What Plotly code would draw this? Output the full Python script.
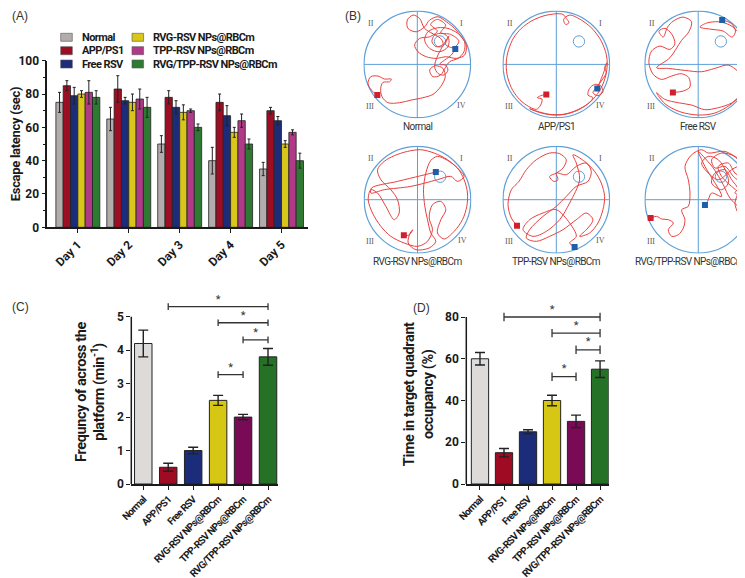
import plotly.graph_objects as go

W, H = 745, 578

# ---------------- data ----------------
days = ["Day 1", "Day 2", "Day 3", "Day 4", "Day 5"]
groups = ["Normal", "APP/PS1", "Free RSV", "RVG-RSV NPs@RBCm",
          "TPP-RSV NPs@RBCm", "RVG/TPP-RSV NPs@RBCm"]

# (A) escape latency (sec)
lat_normal = [75, 65, 50, 40, 35]
lat_app = [85, 83, 78, 75, 70]
lat_free = [79, 76, 72, 67, 64]
lat_rvg = [80, 75, 69, 57, 50]
lat_tpp = [81, 77, 70, 64, 57]
lat_dual = [78, 72, 60, 50, 40]
err_normal = [6, 7, 5, 8, 4]
err_app = [3, 8, 4, 5, 2]
err_free = [5, 2, 4, 6, 2.5]
err_rvg = [2, 5, 4.5, 3, 2]
err_tpp = [7, 6, 1, 4, 1.5]
err_dual = [4, 6, 2, 3, 4.5]

# (C) platform crossing frequency, (D) target quadrant occupancy
freq = [4.2, 0.5, 1.0, 2.5, 2.0, 3.8]
freq_err = [0.4, 0.12, 0.1, 0.15, 0.08, 0.25]
occ = [60, 15, 25, 40, 30, 55]
occ_err = [3, 2, 1, 2.5, 3, 4]

# significance brackets (group index pairs and heights)
sig_left = [1, 3, 4, 3]
sig_right = [5, 5, 5, 4]
sig_freq_y = [5.3, 4.82, 4.31, 3.27]
sig_occ_y = [80, 72.3, 64.3, 51.4]

# (B) swim paths, arena units (pool radius 160, centre at 0,0)
path_normal = [(-120,-92),(-138,-77),(-148,-57),(-140,-37),(-118,-35),(-98,-44),(-78,-44),(-83,-52),
               (-103,-54),(-110,-72),(-106,-97),(-88,-115),(-53,-115),(-18,-107),(17,-100),(47,-90),
               (70,-67),(84,-37),(77,-12),(54,-4),(37,-17),(47,-37),(70,-32),(84,-10),(97,8),(122,18),
               (140,38),(142,68),(122,93),(92,108),(62,110),(32,98),(22,73),(37,48),(67,38),(92,53),
               (94,78),(77,93),(52,88),(44,68),(57,53),(77,60),(72,76),(22,108),(7,138),(-13,148),
               (-30,133),(-28,108),(-3,98),(22,113),(37,133),(62,143),(87,128),(112,108),(132,83),
               (147,58),(142,28),(117,18),(87,23),(57,18),(27,23),(2,38),(-8,58),(7,78),(37,83),
               (60,100),(40,120),(60,135),(85,118),(70,95),(100,90),(125,70),(110,50),(85,60),(95,85),
               (62,28),(52,-7),(62,-27),(80,-32),(92,-17),(84,-2),(67,0),(102,28),(114,46)]
path_app = [(-30,-90),(-47,-94),(-57,-100),(-43,-104),(-47,-122),(-60,-135),(-90,-122),(-115,-100),
            (-135,-70),(-148,-30),(-150,10),(-143,45),(-128,80),(-105,108),(-75,130),(-40,145),(0,152),
            (20,150),(30,138),(38,125),(28,120),(22,135),(40,148),(80,130),(110,105),(135,70),(150,30),
            (153,0),(148,-35),(135,-70),(110,-105),(75,-132),(35,-148),(-5,-152),(-45,-146),(-80,-133),
            (-60,-140),(-20,-150),(20,-150),(60,-138),(95,-118),(110,-100),(95,-92),(100,-72),(115,-60),
            (133,-64),(140,-82),(125,-94),(110,-85),(120,-70),(135,-50),(150,-25),(145,-10),(152,5),
            (140,-30),(130,-55),(123,-72)]
path_free = [(-76,-84),(-45,-80),(-25,-68),(-28,-40),(-50,-28),(-80,-35),(-110,-45),(-135,-30),(-148,5),
             (-140,40),(-115,55),(-85,45),(-70,62),(-80,92),(-100,108),(-118,100),(-105,82),(-92,112),
             (-75,130),(-45,142),(-20,128),(-28,98),(-50,72),(-85,20),(-125,-10),(-90,-12),(-40,-18),
             (10,-22),(50,-12),(90,-2),(120,-22),(138,-55),(128,-92),(100,-116),(60,-130),(20,-136),
             (-20,-122),(-60,-115),(-100,-105),(-125,-85),(-100,-118),(-55,-142),(0,-152),(50,-146),
             (95,-122),(125,-92),(145,-50),(152,-10),(150,30),(140,65),(122,95),(95,118),(60,128),
             (25,124),(5,112),(35,106),(75,100),(102,82),(112,100),(98,124),(72,133)]
path_rvg = [(-41,-107),(-25,-106),(-14,-90),(-22,-100),(-28,-130),(-5,-150),(35,-145),(55,-125),(40,-100),
            (30,-60),(22,-20),(18,30),(25,80),(40,118),(60,130),(90,118),(120,95),(140,60),(150,20),
            (148,-20),(135,-60),(110,-95),(80,-118),(60,-100),(70,-60),(85,-30),(70,-5),(45,-15),(35,-55),
            (45,-90),(30,-125),(0,-140),(-40,-130),(-80,-110),(-110,-80),(-135,-40),(-148,0),(-140,30),
            (-120,20),(-95,-20),(-70,-60),(-55,-40),(-60,0),(-80,30),(-110,60),(-120,90),(-100,115),
            (-70,132),(-30,145),(10,150),(50,140),(90,120),(125,90),(140,70),(120,55),(100,70),(60,60),
            (-20,40),(-100,30),(-140,20),(-138,35),(-60,55),(10,72),(55,83)]
path_tpp = [(-118,-78),(-135,-55),(-145,-15),(-135,30),(-112,55),(-90,90),(-60,120),(-20,140),(10,138),
            (30,120),(20,95),(0,80),(-20,70),(-8,55),(5,60),(0,80),(30,75),(60,100),(90,110),(105,85),
            (95,55),(60,40),(30,10),(0,-20),(-40,-50),(-80,-90),(-90,-115),(-60,-125),(-20,-110),
            (20,-90),(60,-60),(90,-40),(110,-60),(95,-85),(70,-110),(100,-100),(125,-70),(140,-30),
            (145,10),(135,50),(115,85),(85,115),(50,135),(60,110),(70,60),(40,-10),(10,-60),(-30,-95),
            (-70,-110),(-100,-90),(-80,-60),(-40,-40),(0,-30),(40,-70),(60,-110),(40,-130),(55,-142)]
path_dual = [(-143,-55),(-125,-50),(-110,-58),(-90,-60),(-75,-70),(-90,-90),(-80,-110),(-60,-105),
             (-45,-85),(-40,-60),(-50,-30),(-30,-20),(-25,20),(-30,60),(-40,100),(-20,135),(10,150),
             (30,140),(80,145),(120,120),(145,80),(150,40),(130,20),(100,40),(70,70),(60,100),(90,110),
             (110,80),(140,60),(150,20),(145,-20),(135,-50),(120,-40),(110,-10),(120,30),(100,60),
             (80,90),(50,80),(40,50),(70,30),(90,50),(85,80),(60,120),(30,130),(10,110),(30,80),(60,60),
             (100,90),(130,110),(110,130),(70,140),(40,120),(50,95),(80,100),(105,70),(130,45),(110,20),
             (140,10),(152,-15),(130,-25),(95,5),(75,45),(45,95),(15,130),(0,145),(20,100),
             (70,10),(40,20),(30,0),(25,-10),(20,-16)]
platform = (68, 69)
platform_r = 17
pool_r = 160

# ---------------- style ----------------
FONT = "Roboto, sans-serif"
colors_a = ["#b3acac", "#9b0e24", "#1c2c78", "#d9c61b", "#b03a88", "#2f7a33"]
colors_cd = ["#dddbd9", "#9e0b22", "#1a2c7a", "#d6c714", "#790a55", "#257226"]
EDGE = "#222222"
INK = "#1a1a1a"

def bold(size):
    return dict(family=FONT, size=size, color=INK, weight="bold")

def tight(text, ls):
    return '<span style="letter-spacing:%spx">%s</span>' % (ls, text)

def fx(px):
    return px / W

def fy(py):
    return 1 - py / H

fig = go.Figure()

# ---------- (A) grouped bars ----------
lat_series = [lat_normal, lat_app, lat_free, lat_rvg, lat_tpp, lat_dual]
err_series = [err_normal, err_app, err_free, err_rvg, err_tpp, err_dual]
for name, vals, errs, col in zip(groups, lat_series, err_series, colors_a):
    fig.add_trace(go.Bar(
        x=list(range(len(days))), y=vals, name=name, showlegend=False,
        marker=dict(color=col, line=dict(color=EDGE, width=0.8)),
        error_y=dict(type="data", array=errs, color=EDGE, thickness=1, width=1.5),
        xaxis="x", yaxis="y"))

# ---------- (C) and (D) ----------
def add_panel(vals, errs, sig_y, cap, star_off, width, ax):
    fig.add_trace(go.Bar(
        x=list(range(len(groups))), y=vals, width=width, showlegend=False,
        marker=dict(color=colors_cd, line=dict(color=EDGE, width=1)),
        error_y=dict(type="data", array=errs, color=EDGE, thickness=1.4, width=5),
        xaxis="x" + ax, yaxis="y" + ax))
    bx, by, sx, sy = [], [], [], []
    for l, r, y in zip(sig_left, sig_right, sig_y):
        bx += [l, l, None, l, r, None, r, r, None]
        by += [y - cap, y + cap, None, y, y, None, y - cap, y + cap, None]
        sx.append((l + r) / 2)
        sy.append(y + star_off)
    fig.add_trace(go.Scatter(x=bx, y=by, mode="lines", line=dict(color="#333", width=1.3),
                             showlegend=False, hoverinfo="skip", xaxis="x" + ax, yaxis="y" + ax))
    fig.add_trace(go.Scatter(x=sx, y=sy, mode="text", text=["*"] * len(sx),
                             textfont=dict(family=FONT, size=11, color="#333"), cliponaxis=False,
                             showlegend=False, hoverinfo="skip", xaxis="x" + ax, yaxis="y" + ax))

add_panel(freq, freq_err, sig_freq_y, 0.1, 0.2, 0.7, "2")
add_panel(occ, occ_err, sig_occ_y, 2.0, 3.4, 0.72, "3")

# ---------- (B) swim paths ----------
paths = [path_normal, path_app, path_free, path_rvg, path_tpp, path_dual]
b_centres = [(409.3, 56.4), (548.3, 56.4), (690.2, 56.4),
             (409.5, 191.7), (548.3, 191.7), (690.3, 191.7)]
HALF = 54.0
RNG = pool_r * HALF / 53.3
shapes = []
annotations = []
axes_layout = {}
for i, (pts, (cx, cy)) in enumerate(zip(paths, b_centres)):
    n = str(i + 4)
    axes_layout["xaxis" + n] = dict(domain=[fx(cx - HALF), fx(cx + HALF)], range=[-RNG, RNG],
                                    visible=False, fixedrange=True)
    axes_layout["yaxis" + n] = dict(domain=[fy(cy + HALF), fy(cy - HALF)], range=[-RNG, RNG],
                                    visible=False, fixedrange=True)
    xs = [p[0] for p in pts]
    ys = [p[1] for p in pts]
    fig.add_trace(go.Scatter(x=xs, y=ys, mode="lines", line=dict(color="#e8403f", width=1,
                             shape="spline", smoothing=0.9), showlegend=False, hoverinfo="skip",
                             xaxis="x" + n, yaxis="y" + n))
    fig.add_trace(go.Scatter(x=[xs[0]], y=[ys[0]], mode="markers",
                             marker=dict(symbol="square", size=6, color="#d0202e"),
                             showlegend=False, hoverinfo="skip", xaxis="x" + n, yaxis="y" + n))
    fig.add_trace(go.Scatter(x=[xs[-1]], y=[ys[-1]], mode="markers",
                             marker=dict(symbol="square", size=6, color="#1f5fa8"),
                             showlegend=False, hoverinfo="skip", xaxis="x" + n, yaxis="y" + n))
    blue = "#5fa0d8"
    shapes.append(dict(type="circle", xref="x" + n, yref="y" + n, x0=-pool_r, x1=pool_r,
                       y0=-pool_r, y1=pool_r, line=dict(color=blue, width=1.2), layer="below"))
    shapes.append(dict(type="line", xref="x" + n, yref="y" + n, x0=-pool_r, x1=pool_r, y0=0, y1=0,
                       line=dict(color=blue, width=1), layer="below"))
    shapes.append(dict(type="line", xref="x" + n, yref="y" + n, x0=0, x1=0, y0=-pool_r, y1=pool_r,
                       line=dict(color=blue, width=1), layer="below"))
    shapes.append(dict(type="circle", xref="x" + n, yref="y" + n,
                       x0=platform[0] - platform_r, x1=platform[0] + platform_r,
                       y0=platform[1] - platform_r, y1=platform[1] + platform_r,
                       line=dict(color=blue, width=1), layer="below"))
    for txt, qx, qy in [("II", -139, 123), ("I", 133, 123), ("III", -142, -126), ("IV", 134, -123)]:
        annotations.append(dict(text=txt, x=qx, y=qy, xref="x" + n, yref="y" + n, showarrow=False,
                                xanchor="center", yanchor="middle",
                                font=dict(family="Liberation Serif", size=8, color="#555")))
    label_y = 118.3 if i < 3 else 253.3
    if i == 5:
        lab = dict(x=fx(739), xanchor="right")
    else:
        lab = dict(x=fx(cx), xanchor="center")
    annotations.append(dict(text=tight(groups[i], -0.6), y=fy(label_y),
                            xref="paper", yref="paper", yanchor="middle",
                            showarrow=False, font=dict(family=FONT, size=10, color="#333"), **lab))

# ---------- manual legend for (A) ----------
for i, (name, col) in enumerate(zip(groups, colors_a)):
    c, r = divmod(i, 3)
    x0 = [52.7, 124.0][c]
    yc = [29.3, 42.7, 56.0][r]
    shapes.append(dict(type="rect", xref="paper", yref="paper", x0=fx(x0), x1=fx(x0 + 11.6),
                       y0=fy(yc + 4), y1=fy(yc - 4), fillcolor=col,
                       line=dict(color="#555", width=0.6)))
    annotations.append(dict(text=tight(name, -0.6), x=fx(x0 + 19), y=fy(yc), xref="paper",
                            yref="paper", xanchor="left", yanchor="middle", showarrow=False,
                            font=bold(11)))

# y-axis lines for C and D (only up to top tick)
shapes.append(dict(type="line", xref="x2 domain", yref="y2", x0=0, x1=0, y0=0, y1=5,
                   line=dict(color=INK, width=1.5)))
shapes.append(dict(type="line", xref="x3 domain", yref="y3", x0=0, x1=0, y0=0, y1=80,
                   line=dict(color=INK, width=1.5)))

# panel labels
for txt, px, py in [("(A)", 2, 8), ("(B)", 335, 8), ("(C)", 2, 299), ("(D)", 403, 300)]:
    annotations.append(dict(text=txt, x=fx(px), y=fy(py), xref="paper", yref="paper",
                            xanchor="left", yanchor="middle", showarrow=False,
                            font=dict(family="Liberation Sans", size=12, color="#333")))

axis_common = dict(showline=True, linecolor=INK, linewidth=1.5, ticks="outside",
                   ticklen=4, tickwidth=1.3, tickcolor=INK, tickfont=bold(12),
                   showgrid=False, zeroline=False, automargin=False, fixedrange=True)
group_ticks = [tight(g, -0.7) for g in groups]

fig.update_layout(
    width=W, height=H, margin=dict(l=0, r=0, t=0, b=0),
    paper_bgcolor="white", plot_bgcolor="white",
    barmode="group", bargap=0.137, bargroupgap=0,
    showlegend=False,
    xaxis=dict(axis_common, domain=[fx(39.3), fx(300)], range=[-0.6, 4.52],
               tickvals=list(range(len(days))), ticktext=days, tickangle=-45, anchor="y"),
    yaxis=dict(axis_common, domain=[fy(219.3), fy(52.7)], range=[0, 100], dtick=20,
               minor=dict(dtick=10, ticks="outside", ticklen=2.5, tickcolor=INK),
               title=dict(text=tight("Escape latency (sec)", -0.3), font=bold(13), standoff=4),
               anchor="x"),
    xaxis2=dict(axis_common, domain=[fx(123.3), fx(270)], range=[-0.48, 5.4],
                tickvals=list(range(len(groups))), ticktext=group_ticks, tickangle=-45,
                anchor="y2", tickfont=bold(10)),
    yaxis2=dict(axis_common, domain=[fy(476), fy(292)], range=[0, 5.5], tickvals=[0, 1, 2, 3, 4, 5],
                showline=False, anchor="x2",
                title=dict(text=tight("Frequncy of across the", -0.4) + "<br>" +
                           tight("platform (min<sup>-1</sup>)", -0.4),
                           font=bold(14.5), standoff=8)),
    xaxis3=dict(axis_common, domain=[fx(458.3), fx(600.7)], range=[-0.57, 5.36],
                tickvals=list(range(len(groups))), ticktext=group_ticks, tickangle=-45,
                anchor="y3", tickfont=bold(10)),
    yaxis3=dict(axis_common, domain=[fy(476), fy(296.5)], range=[0, 86], tickvals=[0, 20, 40, 60, 80],
                showline=False, anchor="x3",
                title=dict(text=tight("Time in target quadrant", -0.4) + "<br>" +
                           tight("occupancy (%)", -0.4),
                           font=bold(14.5), standoff=8)),
    shapes=shapes, annotations=annotations,
    **axes_layout,
)

fig.write_html("out.html")
